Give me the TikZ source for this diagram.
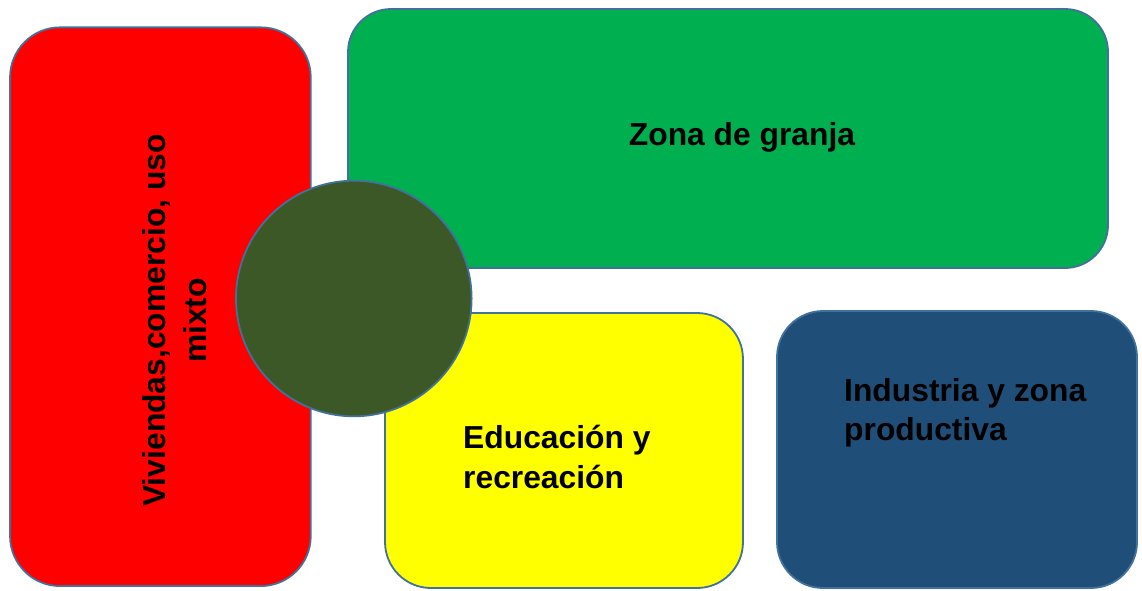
\documentclass[tikz,border=0pt]{standalone}
\usepackage{fontspec}
\setmainfont{Liberation Sans}
\definecolor{edge}{HTML}{41719C}
\definecolor{zred}{HTML}{FF0000}
\definecolor{zgreen}{HTML}{00B050}
\definecolor{zyellow}{HTML}{FFFF00}
\definecolor{zblue}{HTML}{1F4E79}
\definecolor{zcircle}{HTML}{3C5826}
\begin{document}
\begin{tikzpicture}[x=1pt,y=-1pt,
  zone/.style={draw=edge, line width=1.8pt, inner sep=0pt, outer sep=0pt},
  lbl/.style={font=\fontsize{31.8}{40}\selectfont\bfseries, text=black, inner sep=0pt}]
\useasboundingbox (0,0) rectangle (1142,590);
% zones
\node[zone, fill=zred, rounded corners=50pt, minimum width=300.7pt, minimum height=558.7pt] (viv) at (160.4,306.7) {};
\node[zone, fill=zgreen, rounded corners=43pt, minimum width=760pt, minimum height=259pt] (granja) at (728,138.5) {};
\node[zone, fill=zyellow, rounded corners=46pt, minimum width=358pt, minimum height=275pt] (edu) at (564,450.5) {};
\node[zone, fill=zblue, rounded corners=46pt, minimum width=360pt, minimum height=277pt] (ind) at (957,449.5) {};
\node[zone, fill=zcircle, circle, minimum size=235.6pt] (centro) at (353.8,298.5) {};
% labels
\node[lbl, rotate=90, align=center, font=\fontsize{31.8}{41}\selectfont\bfseries] (tviv) at (175,320.5) {Viviendas,comercio, uso\\mixto};
\node[lbl, anchor=base] (tgranja) at (742,145) {Zona de granja};
\node[lbl, align=left, anchor=west, font=\fontsize{31.8}{40.5}\selectfont\bfseries] (tedu) at (463,457) {Educación y\\recreación};
\node[lbl, align=left, anchor=west, font=\fontsize{31.8}{38.6}\selectfont\bfseries] (tind) at (844,413) {Industria y zona\\productiva};
\end{tikzpicture}
\end{document}
